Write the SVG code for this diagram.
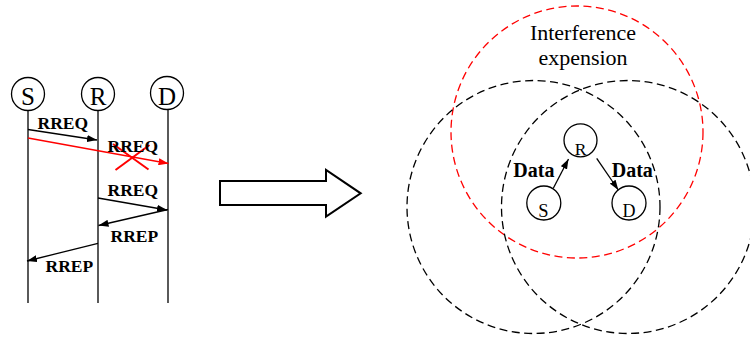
<svg xmlns="http://www.w3.org/2000/svg" width="750" height="338" viewBox="0 0 750 338">
<style>
.t{font-family:"Liberation Serif","Times New Roman",serif;fill:#000}
.b{font-weight:bold;font-size:17.5px}
.node{fill:#fff;stroke:#000;stroke-width:1.3}
.ln{stroke:#000;stroke-width:1.3;fill:none}
.msg{stroke:#000;stroke-width:1.3;fill:none;marker-end:url(#ah)}
.red{stroke:#f00;stroke-width:1.3;fill:none;marker-end:url(#ahr)}
.dash{fill:none;stroke:#000;stroke-width:1.3;stroke-dasharray:8 4.5}
</style>
<defs>
<marker id="ah" markerUnits="userSpaceOnUse" markerWidth="10" markerHeight="7" refX="10" refY="3.5" orient="auto"><path d="M0,0 L10,3.5 L0,7 z" fill="#000"/></marker>
<marker id="ahr" markerUnits="userSpaceOnUse" markerWidth="10" markerHeight="7" refX="10" refY="3.5" orient="auto"><path d="M0,0 L10,3.5 L0,7 z" fill="#f00"/></marker>
</defs>
<rect width="750" height="338" fill="#fff"/>

<g id="lifelines">
<line class="ln" x1="28" y1="111" x2="28" y2="303"/>
<line class="ln" x1="98" y1="111" x2="98" y2="303"/>
<line class="ln" x1="168" y1="110" x2="168" y2="303"/>
</g>
<g id="seq-S"><circle class="node" cx="28" cy="94" r="16.5"/><text class="t" x="28" y="105" font-size="25" text-anchor="middle">S</text></g>
<g id="seq-R"><circle class="node" cx="98" cy="94" r="16.5"/><text class="t" x="98" y="105" font-size="25" text-anchor="middle">R</text></g>
<g id="seq-D"><circle class="node" cx="167" cy="93" r="16.5"/><text class="t" x="167" y="104.5" font-size="25" text-anchor="middle">D</text></g>

<g id="messages">
<line class="msg" x1="28" y1="129.5" x2="97" y2="140"/>
<line class="red" x1="28" y1="138" x2="168.5" y2="163.5"/>
<line x1="113" y1="144" x2="148.5" y2="169.5" stroke="#f00" stroke-width="2"/>
<line x1="149.5" y1="145" x2="115.5" y2="170" stroke="#f00" stroke-width="2"/>
<line class="msg" x1="98" y1="198" x2="167" y2="210"/>
<line class="msg" x1="168" y1="209.5" x2="98.5" y2="225.5"/>
<line class="msg" x1="98" y1="243.3" x2="27" y2="261"/>
</g>
<g id="msg-labels">
<text class="t b" x="37.5" y="128.5">RREQ</text>
<text class="t b" x="107.5" y="151.7">RREQ</text>
<text class="t b" x="107.5" y="196">RREQ</text>
<text class="t b" x="110.5" y="242.3">RREP</text>
<text class="t b" x="45.5" y="271.7">RREP</text>
</g>

<g id="big-arrow">
<polygon points="220,181 326,181 326,170 360.7,193.3 326,216.7 326,205 220,205" fill="#fff" stroke="#000" stroke-width="2" stroke-linejoin="miter"/>
</g>

<g id="ranges">
<circle class="dash" cx="577" cy="132" r="126" style="stroke:#f00"/>
<circle class="dash" cx="533.5" cy="207" r="126.5"/>
<circle class="dash" cx="628" cy="207" r="126.5"/>
</g>
<text class="t" x="583" y="40" font-size="22" text-anchor="middle">Interference</text>
<text class="t" x="583" y="65" font-size="22" text-anchor="middle">expension</text>

<g id="node-R"><circle class="node" cx="580.5" cy="140.3" r="16.5"/><text class="t" x="580.5" y="154.5" font-size="17.5" text-anchor="middle">R</text></g>
<g id="node-S"><circle class="node" cx="543.8" cy="203" r="17"/><text class="t" x="543.3" y="217" font-size="18.5" text-anchor="middle">S</text></g>
<g id="node-D"><circle class="node" cx="629" cy="203" r="17"/><text class="t" x="629" y="216.5" font-size="18" text-anchor="middle">D</text></g>

<g id="data-links">
<line class="msg" x1="553.3" y1="188.3" x2="568.5" y2="159"/>
<line class="msg" x1="596.7" y1="158.3" x2="618.3" y2="190"/>
</g>
<text class="t" x="513.3" y="177.3" font-size="20" font-weight="bold">Data</text>
<text class="t" x="611.7" y="177.3" font-size="20" font-weight="bold">Data</text>
</svg>
